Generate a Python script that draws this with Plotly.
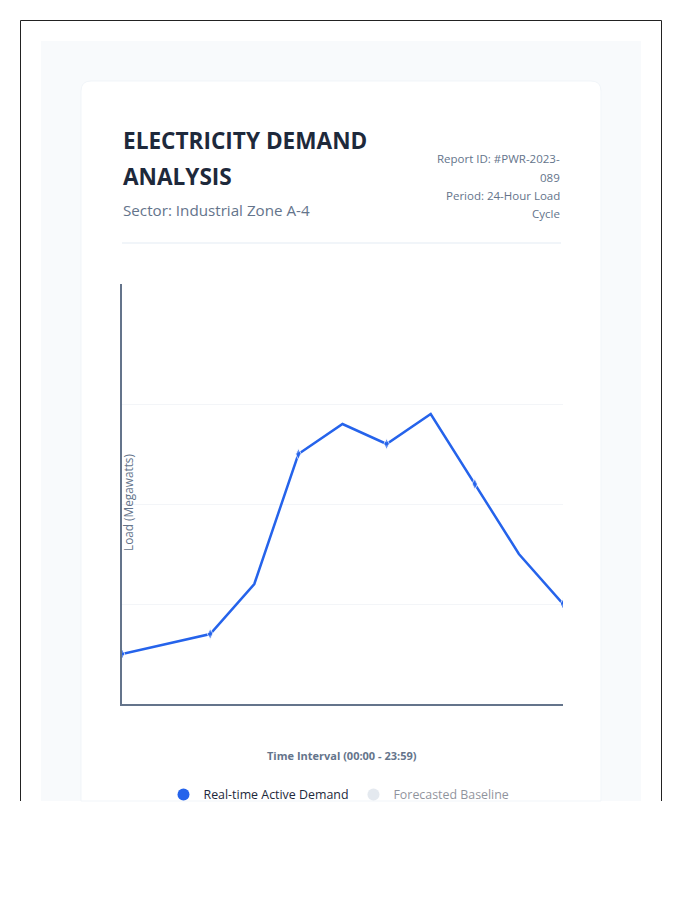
import plotly.graph_objects as go

# ---- data ----
hours = [0, 4, 6, 8, 10, 12, 14, 16, 18, 20]
demand_mw = [50, 70, 120, 250, 280, 260, 290, 220, 150, 100]
grid_vals = [100, 200, 300]
series_names = ["Real-time Active Demand", "Forecasted Baseline"]

W, H = 700, 900
FONT = "Open Sans"
DARK = "#1e293b"
SLATE = "#64748b"
BLUE = "#2563eb"


def px(x):
    return x / W


def py(y):
    return 1 - y / H


fig = go.Figure()

marker_sizes = [8 if h % 4 == 0 else 0 for h in hours]
fig.add_trace(go.Scatter(
    x=hours, y=demand_mw, mode="lines+markers",
    line=dict(color=BLUE, width=2.5),
    marker=dict(color=BLUE, size=marker_sizes, symbol="diamond-tall"),
    name=series_names[0], showlegend=False, legendgroup="a",
))
# legend entries
fig.add_trace(go.Scatter(
    x=[None], y=[None], mode="markers", name=series_names[0], legendgroup="a",
    marker=dict(color=BLUE, size=12),
))
fig.add_trace(go.Scatter(
    x=[None], y=[None], mode="markers", name=series_names[1],
    marker=dict(color="#cbd5e1", size=12), visible="legendonly",
))

shapes = []
# outer black frame (open at bottom, clipped)
shapes.append(dict(type="path", xref="paper", yref="paper",
                   path=f"M {px(20.5)} {py(801)} L {px(20.5)} {py(20.5)} L {px(661.5)} {py(20.5)} L {px(661.5)} {py(801)}",
                   line=dict(color="#222222", width=1), layer="below"))
# gray background
shapes.append(dict(type="rect", xref="paper", yref="paper",
                   x0=px(41), x1=px(641), y0=py(801), y1=py(41),
                   fillcolor="#f8fafc", line=dict(width=0), layer="below"))
# white card with rounded top corners
r = 10
x0, x1, y0, y1 = 81, 601, 81, 801
path = (f"M {px(x0)} {py(y1)} L {px(x0)} {py(y0 + r)} "
        f"Q {px(x0)} {py(y0)} {px(x0 + r)} {py(y0)} "
        f"L {px(x1 - r)} {py(y0)} Q {px(x1)} {py(y0)} {px(x1)} {py(y0 + r)} "
        f"L {px(x1)} {py(y1)} Z")
shapes.append(dict(type="path", xref="paper", yref="paper", path=path,
                   fillcolor="white", line=dict(color="#f1f5f9", width=1), layer="below"))
# divider
shapes.append(dict(type="line", xref="paper", yref="paper",
                   x0=px(122), x1=px(561), y0=py(243), y1=py(243),
                   line=dict(color="#f1f5f9", width=2), layer="below"))

annotations = []
annotations.append(dict(text="<b>ELECTRICITY DEMAND</b>", x=px(121), y=py(140), xref="paper", yref="paper",
                        xanchor="left", yanchor="middle", showarrow=False,
                        font=dict(family=FONT, size=22.6, color=DARK)))
annotations.append(dict(text="<b>ANALYSIS</b>", x=px(121), y=py(176), xref="paper", yref="paper",
                        xanchor="left", yanchor="middle", showarrow=False,
                        font=dict(family=FONT, size=22.6, color=DARK)))
annotations.append(dict(text="Sector: Industrial Zone A-4", x=px(121), y=py(210), xref="paper", yref="paper",
                        xanchor="left", yanchor="middle", showarrow=False,
                        font=dict(family=FONT, size=15.2, color=SLATE)))
for i, t in enumerate(["Report ID: #PWR-2023-", "089", "Period: 24-Hour Load", "Cycle"]):
    annotations.append(dict(text=t, x=px(562), y=py(159 + 18 * i), xref="paper", yref="paper",
                            xanchor="right", yanchor="middle", showarrow=False,
                            font=dict(family=FONT, size=11.5, color=SLATE)))
annotations.append(dict(text="Load (Megawatts)", x=px(128), y=py(503), xref="paper", yref="paper",
                        xanchor="center", yanchor="middle", textangle=-90, showarrow=False,
                        font=dict(family=FONT, size=11.8, color=SLATE)))
annotations.append(dict(text="<b>Time Interval (00:00 - 23:59)</b>", x=px(342), y=py(755), xref="paper", yref="paper",
                        xanchor="center", yanchor="middle", showarrow=False,
                        font=dict(family=FONT, size=11, color=SLATE)))

fig.update_layout(
    width=W, height=H, margin=dict(l=0, r=0, t=0, b=0),
    paper_bgcolor="white", plot_bgcolor="rgba(0,0,0,0)",
    shapes=shapes, annotations=annotations,
    font=dict(family=FONT, color=DARK),
    showlegend=True,
    legend=dict(orientation="h", x=px(339), y=py(795), xanchor="center", yanchor="middle",
                font=dict(family=FONT, size=12.4, color=DARK), itemsizing="trace",
                bgcolor="rgba(0,0,0,0)"),
    xaxis=dict(domain=[px(122), px(563)], range=[0, 20], showgrid=False, zeroline=False,
               showline=True, linecolor=SLATE, linewidth=2, showticklabels=False, ticks=""),
    yaxis=dict(domain=[py(704), py(284)], range=[0, 420], tickvals=grid_vals, showgrid=True,
               gridcolor="#f3f5f8", gridwidth=1, zeroline=False,
               showline=True, linecolor=SLATE, linewidth=2, showticklabels=False, ticks=""),
)

fig.write_html("out.html")
